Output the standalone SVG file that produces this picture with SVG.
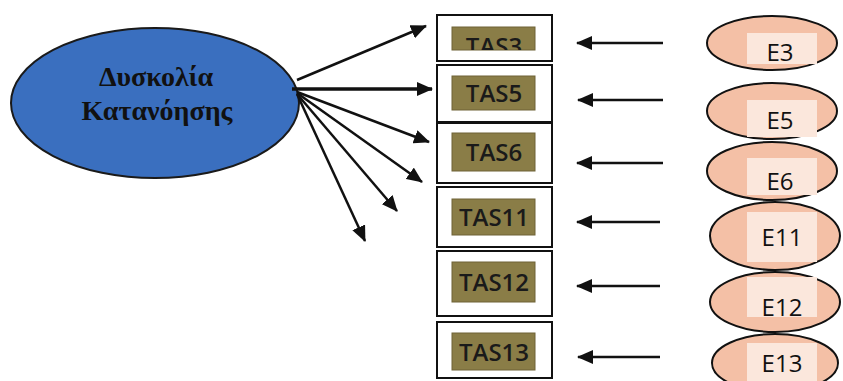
<svg xmlns="http://www.w3.org/2000/svg" width="843" height="381" viewBox="0 0 843 381">
<style>
.main{fill:#3a6fbf;stroke:#1a1a1a;stroke-width:2}
.mt{font-family:"Liberation Serif",serif;font-weight:bold;font-size:28px;fill:#111;text-anchor:middle}
.box{fill:#fff;stroke:#111;stroke-width:2}
.ol{fill:#8a7d47;stroke:#6e6336;stroke-width:1}
.tt{font-family:"Open Sans","Liberation Sans",sans-serif;font-weight:600;font-size:24px;fill:#1a1a1a;text-anchor:middle}
.err{fill:#f4c0a6;stroke:#111;stroke-width:2}
.ei{fill:#fbe7dc}
.et{font-family:"Open Sans","Liberation Sans",sans-serif;font-size:24px;fill:#111;text-anchor:middle}
.c{stroke:#111;stroke-width:2.5;fill:none;marker-end:url(#ah)}
</style>
<defs>
<marker id="ah" markerUnits="userSpaceOnUse" markerWidth="16" markerHeight="14" refX="15" refY="7" orient="auto">
<path d="M0,0 L16,7 L0,14 Z" fill="#111"/>
</marker>
<clipPath id="c3"><rect x="452" y="27" width="83" height="23"/></clipPath>
</defs>

<g id="main">
<ellipse class="main" cx="155" cy="103" rx="144" ry="75"/>
<text class="mt" x="156" y="86">Δυσκολία</text>
<text class="mt" x="157" y="120">Κατανόησης</text>
</g>

<g id="TAS3"><rect class="box" x="437" y="15" width="115" height="46"/><rect class="ol" x="452" y="27" width="83" height="23"/><text class="tt" x="494" y="55" clip-path="url(#c3)">TAS3</text></g>
<g id="TAS5"><rect class="box" x="437" y="65" width="115" height="57"/><rect class="ol" x="452" y="76" width="83" height="34"/><text class="tt" x="494" y="102">TAS5</text></g>
<g id="TAS6"><rect class="box" x="437" y="123" width="115" height="60"/><rect class="ol" x="452" y="133" width="83" height="38"/><text class="tt" x="494" y="161">TAS6</text></g>
<g id="TAS11"><rect class="box" x="437" y="187" width="115" height="60"/><rect class="ol" x="452" y="199" width="83" height="36"/><text class="tt" x="494" y="226">TAS11</text></g>
<g id="TAS12"><rect class="box" x="437" y="251" width="115" height="65"/><rect class="ol" x="452" y="262" width="83" height="40"/><text class="tt" x="494" y="291">TAS12</text></g>
<g id="TAS13"><rect class="box" x="437" y="322" width="115" height="56"/><rect class="ol" x="452" y="333" width="83" height="37"/><text class="tt" x="494" y="361">TAS13</text></g>

<g id="E3"><ellipse class="err" cx="772" cy="43" rx="65" ry="27"/><rect class="ei" x="747" y="33" width="70" height="31"/><text class="et" x="780" y="61">E3</text></g>
<g id="E5"><ellipse class="err" cx="772" cy="111" rx="65" ry="28"/><rect class="ei" x="747" y="100" width="70" height="37"/><text class="et" x="780" y="129">E5</text></g>
<g id="E6"><ellipse class="err" cx="772" cy="171" rx="65" ry="29"/><rect class="ei" x="747" y="158" width="70" height="37"/><text class="et" x="780" y="190">E6</text></g>
<g id="E11"><ellipse class="err" cx="775" cy="236" rx="65" ry="34"/><rect class="ei" x="747" y="212" width="70" height="50"/><text class="et" x="782" y="246">E11</text></g>
<g id="E12"><ellipse class="err" cx="775" cy="302" rx="65" ry="30"/><rect class="ei" x="747" y="277" width="70" height="40"/><text class="et" x="782" y="316">E12</text></g>
<g id="E13"><ellipse class="err" cx="775" cy="363" rx="63" ry="29"/><rect class="ei" x="747" y="343" width="70" height="38"/><text class="et" x="782" y="372">E13</text></g>

<g id="connectors">
<line class="c" x1="297" y1="80" x2="426" y2="26"/>
<line class="c" x1="292" y1="89" x2="432" y2="89" style="stroke-width:3.5"/>
<line class="c" x1="297" y1="92" x2="429" y2="142"/>
<line class="c" x1="297" y1="93" x2="422" y2="182"/>
<line class="c" x1="297" y1="94" x2="397" y2="211"/>
<line class="c" x1="297" y1="94" x2="365" y2="241"/>
<line class="c" x1="663" y1="43" x2="577" y2="43"/>
<line class="c" x1="663" y1="100" x2="578" y2="100"/>
<line class="c" x1="663" y1="163" x2="577" y2="163"/>
<line class="c" x1="660" y1="222" x2="577" y2="222"/>
<line class="c" x1="660" y1="286" x2="577" y2="286"/>
<line class="c" x1="660" y1="357" x2="578" y2="357"/>
</g>
</svg>
